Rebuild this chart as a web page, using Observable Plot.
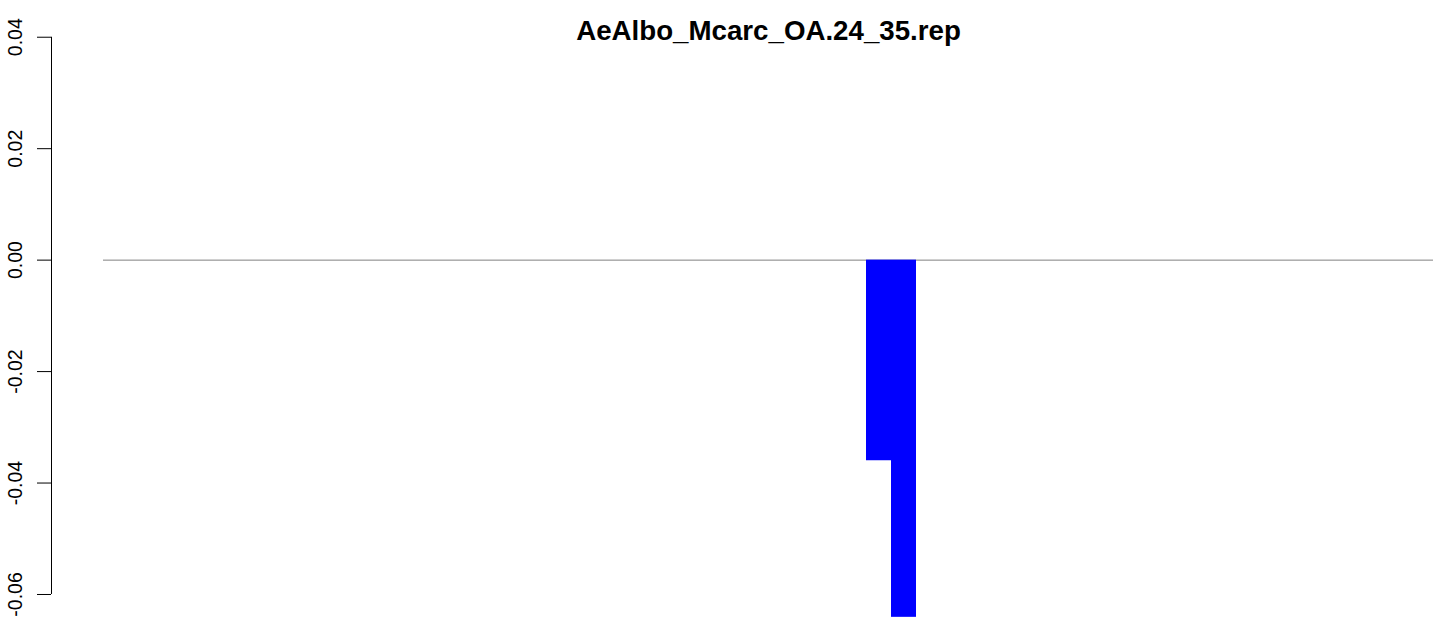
<!DOCTYPE html>
<html>
<head>
<meta charset="utf-8">
<script src="https://cdn.jsdelivr.net/npm/d3@7"></script>
<script src="https://cdn.jsdelivr.net/npm/@observablehq/plot@0.6"></script>
<style>
  html, body { margin: 0; padding: 0; background: #fff; }
</style>
</head>
<body>
<div id="chart"></div>
<script>
// ---- data ----
const chartTitle = "AeAlbo_Mcarc_OA.24_35.rep";
const barIndex = [30, 31];            // bar slot positions (width 1 each)
const barValue = [-0.036, -0.0641];    // bar heights
const yTicks = [-0.06, -0.04, -0.02, 0.00, 0.02, 0.04];
const yTickLabels = ["-0.06", "-0.04", "-0.02", "0.00", "0.02", "0.04"];
const xRange = [-0.52, 52.68];         // plotted x range in bar slots
const yRange = [-0.06413, 0.04659];    // plotted y range

const bars = barIndex.map((k, i) => ({k, v: barValue[i]}));
const ticks = yTicks.map((t, i) => ({t, label: yTickLabels[i]}));

const chart = Plot.plot({
  width: 1439,
  height: 617,
  marginLeft: 103,
  marginRight: 6,
  marginTop: 0,
  marginBottom: 0,
  style: {fontFamily: "'Liberation Sans', Arial, sans-serif", background: "#fff", overflow: "visible"},
  x: {domain: xRange, axis: null},
  y: {domain: yRange, axis: null},
  marks: [
    Plot.ruleY([0], {stroke: "#808080", strokeWidth: 1}),
    Plot.rectY(bars, {x1: "k", x2: d => d.k + 1, y: "v", fill: "#0000ff", inset: 0}),
    // y axis line
    Plot.ruleX([xRange[0]], {y1: yTicks[0], y2: yTicks[yTicks.length - 1], dx: -52, stroke: "#000"}),
    // y tick marks
    Plot.axisY(yTicks, {tickSize: 14, dx: -52, tickFormat: () => "", stroke: "#000", label: null}),
    // y tick labels (rotated)
    Plot.text(ticks, {y: "t", text: "label", frameAnchor: "left", dx: -82, rotate: -90,
      textAnchor: "middle", lineAnchor: "bottom", fontSize: 19.5, fill: "#000"}),
    // title
    Plot.text([chartTitle], {frameAnchor: "top", dy: 39, lineAnchor: "bottom",
      fontWeight: "bold", fontSize: 27.7, fill: "#000"})
  ]
});
document.getElementById("chart").appendChild(chart);
</script>
</body>
</html>
